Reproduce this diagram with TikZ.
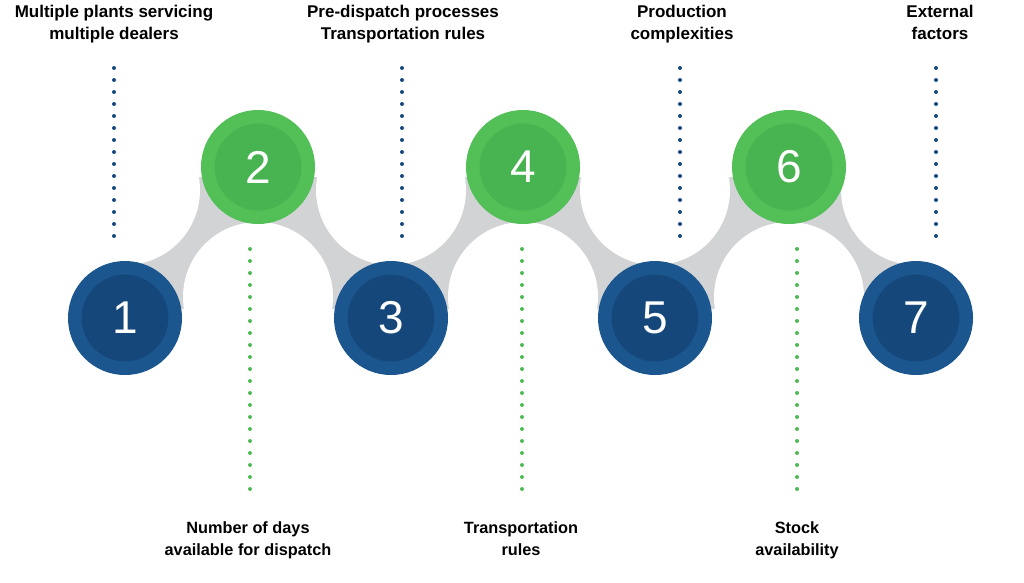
\documentclass[tikz,border=0pt]{standalone}
\usepackage{fontspec}
\setmainfont{Liberation Sans}
\definecolor{blueout}{HTML}{1B568F}
\definecolor{bluein}{HTML}{15477A}
\definecolor{greenout}{HTML}{52BF57}
\definecolor{greenin}{HTML}{48B351}
\definecolor{bandgrey}{HTML}{D1D3D4}
\definecolor{dotblue}{HTML}{16497C}
\definecolor{dotgreen}{HTML}{4DBB53}
\begin{document}
\begin{tikzpicture}[x=1pt,y=-1pt,
  circbase/.style={circle, inner sep=0pt, minimum size=100.5pt, line width=13.5pt, text=white, font=\fontsize{46}{46}\selectfont},
  bluecirc/.style={circbase, fill=bluein, draw=blueout},
  greencirc/.style={circbase, fill=greenin, draw=greenout},
  band/.style={fill=bandgrey},
  hole/.style={fill=white},
  toplabel/.style={align=center, anchor=base, inner sep=0pt, font=\bfseries\fontsize{17}{22}\selectfont},
  botlabel/.style={align=center, anchor=base, inner sep=0pt, font=\bfseries\fontsize{16.3}{22}\selectfont},
  bluedots/.style={draw=dotblue, line width=4pt, line cap=round, dash pattern=on 0pt off 12pt},
  greendots/.style={draw=dotgreen, line width=4pt, line cap=round, dash pattern=on 0pt off 12pt}]
\useasboundingbox (0,0) rectangle (1024,582);
% circle centres
\coordinate (p1) at (125,318);
\coordinate (p2) at (258,167);
\coordinate (p3) at (391,318);
\coordinate (p4) at (523,167);
\coordinate (p5) at (655,318);
\coordinate (p6) at (789,167);
\coordinate (p7) at (916,318);
% hole centres
\coordinate (a1) at (125,190);
\coordinate (a3) at (391,190);
\coordinate (a5) at (655,190);
\coordinate (a7) at (916,190);
\coordinate (b2) at (258,297);
\coordinate (b4) at (523,297);
\coordinate (b6) at (789,297);
% bands
\fill[band] (p1) -- (a1) -- (p2) -- (b2) -- cycle;
\fill[band] (p2) -- (a3) -- (p3) -- (b2) -- cycle;
\fill[band] (p3) -- (a3) -- (p4) -- (b4) -- cycle;
\fill[band] (p4) -- (a5) -- (p5) -- (b4) -- cycle;
\fill[band] (p5) -- (a5) -- (p6) -- (b6) -- cycle;
\fill[band] (p6) -- (a7) -- (p7) -- (b6) -- cycle;
\foreach \h in {a1,a3,a5,a7,b2,b4,b6} \fill[hole] (\h) circle (75);
% circles
\node[bluecirc] (c1) at (p1) {1};
\node[greencirc] (c2) at (p2) {2};
\node[bluecirc] (c3) at (p3) {3};
\node[greencirc] (c4) at (p4) {4};
\node[bluecirc] (c5) at (p5) {5};
\node[greencirc] (c6) at (p6) {6};
\node[bluecirc] (c7) at (p7) {7};
% dotted lines
\coordinate (t1s) at (114,68);  \coordinate (t1e) at (114,236);
\coordinate (t2s) at (402,68);  \coordinate (t2e) at (402,236);
\coordinate (t3s) at (680,68);  \coordinate (t3e) at (680,236);
\coordinate (t4s) at (936,68);  \coordinate (t4e) at (936,236);
\coordinate (g1s) at (250,249); \coordinate (g1e) at (250,489);
\coordinate (g2s) at (522,249); \coordinate (g2e) at (522,489);
\coordinate (g3s) at (797,249); \coordinate (g3e) at (797,489);
\draw[bluedots] (t1s) -- (t1e);
\draw[bluedots] (t2s) -- (t2e);
\draw[bluedots] (t3s) -- (t3e);
\draw[bluedots] (t4s) -- (t4e);
\draw[greendots] (g1s) -- (g1e);
\draw[greendots] (g2s) -- (g2e);
\draw[greendots] (g3s) -- (g3e);
% labels (anchor = baseline of last line)
\node[toplabel] (l1) at (114,39) {Multiple plants servicing\\multiple dealers};
\node[toplabel] (l2) at (403,39) {Pre-dispatch processes\\Transportation rules};
\node[toplabel] (l3) at (682,39) {Production\\complexities};
\node[toplabel] (l4) at (940,39) {External\\factors};
\node[botlabel] (m1) at (248,555) {Number of days\\available for dispatch};
\node[botlabel] (m2) at (521,555) {Transportation\\rules};
\node[botlabel] (m3) at (797,555) {Stock\\availability};
\end{tikzpicture}
\end{document}
